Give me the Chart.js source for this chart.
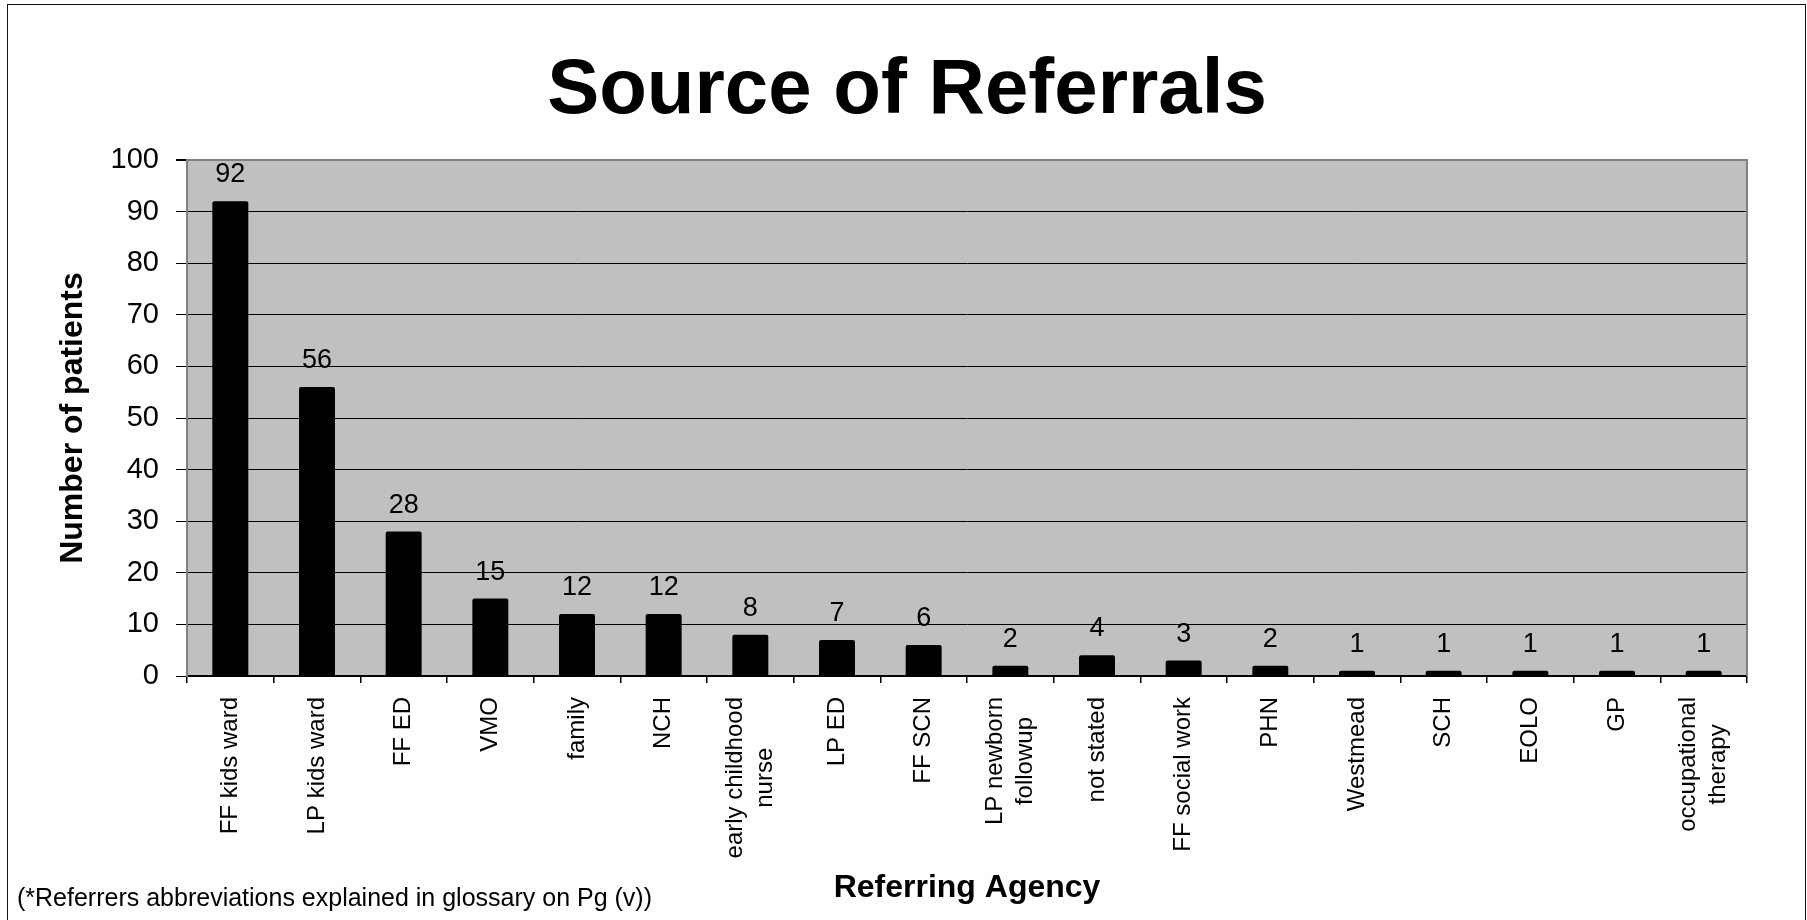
<!DOCTYPE html>
<html>
<head>
<meta charset="utf-8">
<title>Source of Referrals</title>
<script src="https://cdn.jsdelivr.net/npm/chart.js@4"></script>
<style>
  html, body { margin: 0; padding: 0; background: #fff; }
  #wrap { position: relative; width: 1807px; height: 920px; overflow: hidden; }
  #frame {
    position: absolute; left: 7px; top: 4px; width: 1797px; height: 1000px;
    border-left: 1.5px solid #111; border-top: 1.5px solid #111; border-right: 1.5px solid #111;
    pointer-events: none;
  }
  #note {
    position: absolute; left: 17px; top: 883px; line-height: 30px;
    font: 25px 'Liberation Sans', Arial, sans-serif; color: #000; white-space: nowrap;
  }
</style>
</head>
<body>
<div id="wrap">
  <canvas id="referrals" width="1807" height="920"></canvas>
  <div id="frame"></div>
  <div id="note">(*Referrers abbreviations explained in glossary on Pg (v))</div>
</div>
<script>
const agencies = [
  'FF kids ward', 'LP kids ward', 'FF ED', 'VMO', 'family', 'NCH',
  ['early childhood', 'nurse'], 'LP ED', 'FF SCN', ['LP newborn', 'followup'],
  'not stated', 'FF social work', 'PHN', 'Westmead', 'SCH', 'EOLO', 'GP',
  ['occupational', 'therapy']
];
const patients = [92, 56, 28, 15, 12, 12, 8, 7, 6, 2, 4, 3, 2, 1, 1, 1, 1, 1];
const yTicks = [0, 10, 20, 30, 40, 50, 60, 70, 80, 90, 100];

const FONT = "'Liberation Sans', Arial, sans-serif";
Chart.defaults.font.family = FONT;
Chart.defaults.color = '#000';

// grey plot area with grey top/right edge
const plotBackground = {
  id: 'plotBackground',
  beforeDraw(chart) {
    const { ctx, chartArea: a } = chart;
    ctx.save();
    ctx.fillStyle = '#c0c0c0';
    ctx.fillRect(a.left, a.top, a.right - a.left, a.bottom - a.top);
    ctx.restore();
  },
  beforeDatasetsDraw(chart) {
    const { ctx, chartArea: a } = chart;
    ctx.save();
    ctx.strokeStyle = '#808080';
    ctx.lineWidth = 2;
    ctx.beginPath();
    ctx.moveTo(a.left, a.top);
    ctx.lineTo(a.right, a.top);
    ctx.lineTo(a.right, a.bottom);
    ctx.stroke();
    ctx.restore();
  }
};

// value above each bar
const barValues = {
  id: 'barValues',
  afterDatasetsDraw(chart) {
    const { ctx } = chart;
    const meta = chart.getDatasetMeta(0);
    ctx.save();
    ctx.font = '27px ' + FONT;
    ctx.fillStyle = '#000';
    ctx.textAlign = 'center';
    ctx.textBaseline = 'alphabetic';
    meta.data.forEach((bar, i) => {
      ctx.fillText(String(patients[i]), bar.x, bar.y - 19);
    });
    ctx.restore();
  }
};

// vertical category labels, lines centred on each other
const verticalLabels = {
  id: 'verticalLabels',
  afterDraw(chart) {
    const { ctx } = chart;
    const x = chart.scales.x;
    const lineH = 30;
    ctx.save();
    ctx.font = '24px ' + FONT;
    ctx.fillStyle = '#000';
    ctx.textAlign = 'center';
    ctx.textBaseline = 'middle';
    agencies.forEach((label, i) => {
      const lines = Array.isArray(label) ? label : [label];
      const maxW = Math.max(...lines.map(l => ctx.measureText(l).width));
      ctx.save();
      ctx.translate(x.getPixelForTick(i), x.top + 21);
      ctx.rotate(-Math.PI / 2);
      lines.forEach((line, j) => {
        ctx.fillText(line, -maxW / 2, (j - (lines.length - 1) / 2) * lineH);
      });
      ctx.restore();
    });
    ctx.restore();
  }
};

new Chart(document.getElementById('referrals'), {
  type: 'bar',
  data: {
    labels: agencies,
    datasets: [{
      data: patients,
      backgroundColor: '#000',
      borderRadius: 2,
      borderSkipped: 'bottom',
      barPercentage: 0.415,
      categoryPercentage: 1
    }]
  },
  options: {
    responsive: false,
    devicePixelRatio: 1,
    animation: false,
    layout: { padding: { left: 67, right: 60, top: 0, bottom: 0 } },
    plugins: {
      legend: { display: false },
      tooltip: { enabled: false },
      title: {
        display: true,
        text: 'Source of Referrals',
        color: '#000',
        font: { size: 78, weight: 'bold', lineHeight: 1.2 },
        padding: { top: 45, bottom: 21.4 }
      }
    },
    scales: {
      x: {
        offset: true,
        ticks: { display: false },
        grid: {
          offset: true,
          drawOnChartArea: false,
          drawTicks: true,
          tickLength: 7,
          tickColor: '#000',
          lineWidth: 1.5
        },
        border: { color: '#000', width: 1.5 },
        title: {
          display: true,
          text: 'Referring Agency',
          color: '#000',
          font: { size: 32, weight: 'bold', lineHeight: 1.2 },
          padding: { top: 0, bottom: 12.8 }
        },
        afterFit(scale) { scale.height = 244; }
      },
      y: {
        min: yTicks[0],
        max: yTicks[yTicks.length - 1],
        afterBuildTicks(scale) { scale.ticks = yTicks.map(v => ({ value: v })); },
        ticks: { font: { size: 29 }, color: '#000', padding: 17 },
        grid: {
          color: c => (c.tick && c.tick.value === 100 ? '#808080' : '#000'),
          lineWidth: c => (c.tick && c.tick.value === 100 ? 2 : 1),
          tickColor: '#000',
          tickLength: 11
        },
        border: { color: '#808080', width: 2 },
        title: {
          display: true,
          text: 'Number of patients',
          color: '#000',
          font: { size: 32, weight: 'bold', lineHeight: 1.2 },
          padding: { top: -13.2, bottom: 0 }
        },
        afterFit(scale) { scale.width = 120; }
      }
    }
  },
  plugins: [plotBackground, barValues, verticalLabels]
});
</script>
</body>
</html>
